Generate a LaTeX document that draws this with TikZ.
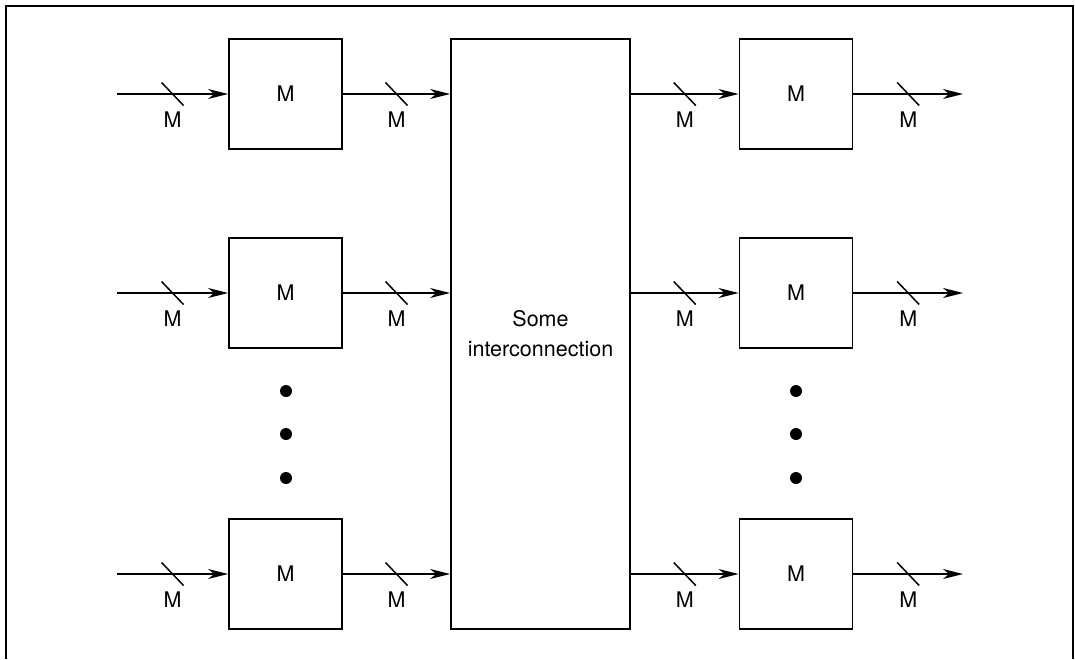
\documentclass[tikz,border=0pt]{standalone}
\usepackage{fontspec}
\setmainfont{TeX Gyre Heros}
\usepackage{tikz}
\usetikzlibrary{positioning,arrows.meta,decorations.markings}

\begin{document}
\begin{tikzpicture}[
  x=1pt,y=-1pt,
  every node/.style={font=\fontsize{21.5}{30}\selectfont,align=center},
  mbox/.style={draw,line width=1.8pt,minimum width=113pt,minimum height=110pt,inner sep=0pt},
  bigbox/.style={draw,line width=1.8pt,minimum width=179pt,minimum height=590pt,inner sep=0pt},
  dot/.style={circle,fill,inner sep=0pt,minimum size=12pt},
  bus/.style={line width=1.5pt,-{Stealth[length=20pt,width=10pt,inset=6pt]},
    postaction={decorate,decoration={markings,
      mark=at position 0.5 with {\draw[-,line width=1.5pt] (-11,-11.5) -- (11,11.5);}}}},
  blab/.style={midway,yshift=-26pt,inner sep=0pt}
]
  \useasboundingbox (0,0) rectangle (1075,659);
  \draw[line width=1.8pt] (6,659) -- (6,6) -- (1073,6) -- (1073,659);

  \node[bigbox] (ic) at (540.5,334) {Some\\interconnection};

  \node[mbox] (la) at (285.5,94) {M};
  \node[mbox] (lb) at (285.5,293) {M};
  \node[mbox] (lc) at (285.5,574) {M};
  \node[mbox] (ra) at (796,94) {M};
  \node[mbox] (rb) at (796,293) {M};
  \node[mbox] (rc) at (796,574) {M};

  \coordinate (ina) at (117,94);
  \coordinate (inb) at (117,293);
  \coordinate (inc) at (117,574);
  \coordinate (outa) at (963,94);
  \coordinate (outb) at (963,293);
  \coordinate (outc) at (963,574);

  \draw[bus] (ina) -- node[blab] {M} (la.west);
  \draw[bus] (inb) -- node[blab] {M} (lb.west);
  \draw[bus] (inc) -- node[blab] {M} (lc.west);
  \draw[bus] (la.east) -- node[blab] {M} (la.east -| ic.west);
  \draw[bus] (lb.east) -- node[blab] {M} (lb.east -| ic.west);
  \draw[bus] (lc.east) -- node[blab] {M} (lc.east -| ic.west);
  \draw[bus] (ra.west -| ic.east) -- node[blab] {M} (ra.west);
  \draw[bus] (rb.west -| ic.east) -- node[blab] {M} (rb.west);
  \draw[bus] (rc.west -| ic.east) -- node[blab] {M} (rc.west);
  \draw[bus] (ra.east) -- node[blab] {M} (outa);
  \draw[bus] (rb.east) -- node[blab] {M} (outb);
  \draw[bus] (rc.east) -- node[blab] {M} (outc);

  \node[dot] (ld1) at (286,391) {};
  \node[dot] (ld2) at (286,434) {};
  \node[dot] (ld3) at (286,478) {};
  \node[dot] (rd1) at (796,391) {};
  \node[dot] (rd2) at (796,434) {};
  \node[dot] (rd3) at (796,478) {};
\end{tikzpicture}
\end{document}
